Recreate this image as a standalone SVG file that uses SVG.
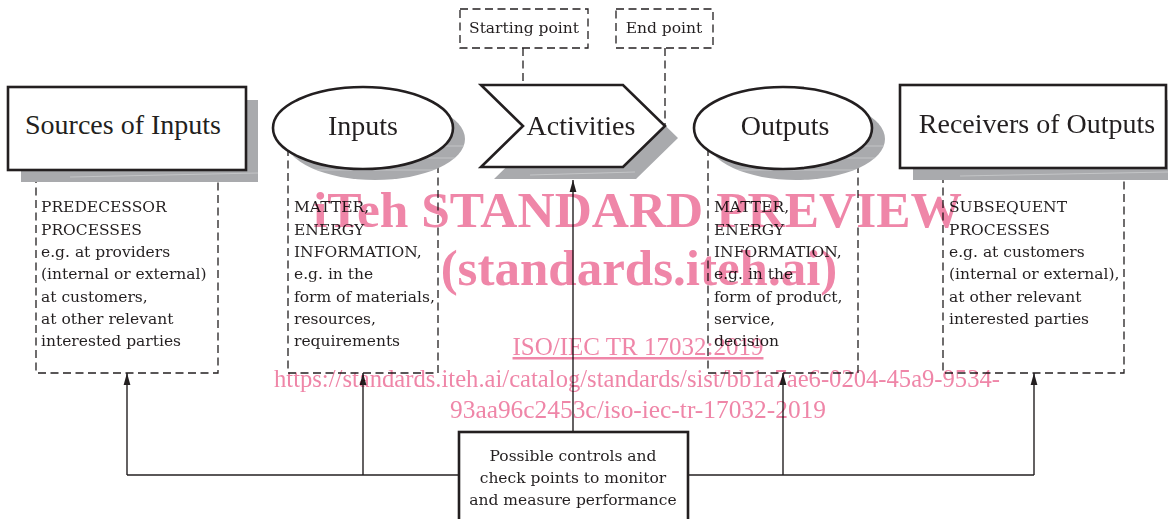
<svg xmlns="http://www.w3.org/2000/svg" width="1168" height="519" viewBox="0 0 1168 519">
  <style>
    .shadow { fill: #a9aaad; stroke: none; }
    .streak { stroke: #cfd0d2; stroke-width: 1; fill: none; opacity: 0.7; }
    .shape { fill: #ffffff; stroke: #231f20; stroke-width: 2.6; }
    .dash { fill: none; stroke: #231f20; stroke-width: 1.3; stroke-dasharray: 8 4.5; }
    .title { font-family: "Liberation Serif", "Times New Roman", serif; font-size: 28px; fill: #231f20; }
    .body { font-family: "DejaVu Serif", "Liberation Serif", serif; font-size: 15.5px; fill: #231f20; }
    .mid { text-anchor: middle; }
    .wire { fill: none; stroke: #231f20; stroke-width: 1.4; }
    .mark { font-family: "Liberation Serif", "Times New Roman", serif; fill: #ef86a8; }
  </style>
  <defs>
    <marker id="arrow" viewBox="0 0 12 10" refX="12" refY="5" markerWidth="12" markerHeight="10" markerUnits="userSpaceOnUse" orient="auto">
      <path d="M0,1.6 L12,5 L0,8.4 Z" fill="#231f20"/>
    </marker>
    <clipPath id="clipInShadow"><ellipse cx="375" cy="139" rx="90" ry="41"/></clipPath>
    <clipPath id="clipOutShadow"><ellipse cx="796" cy="139" rx="89" ry="41"/></clipPath>
  </defs>

  <!-- dashed detail boxes (tops are hidden behind the shapes above them) -->
  <g id="details">
    <path class="dash" d="M36,175 V373 H218 V175"/>
    <path class="dash" d="M288,148 V373 H438 V148"/>
    <path class="dash" d="M708,148 V373 H858 V148"/>
    <path class="dash" d="M943,175 V373 H1124 V175"/>
  </g>

  <!-- connectors -->
  <g id="connectors">
    <path class="wire" d="M127,475 H1034"/>
    <path class="wire" d="M127,475 V373" marker-end="url(#arrow)"/>
    <path class="wire" d="M363,475 V373" marker-end="url(#arrow)"/>
    <path class="wire" d="M783,475 V373" marker-end="url(#arrow)"/>
    <path class="wire" d="M1034,475 V373" marker-end="url(#arrow)"/>
    <path class="wire" d="M573,432 V180" marker-end="url(#arrow)"/>
    <path class="dash" d="M523,48 V126"/>
    <path class="dash" d="M665,48 V126"/>
  </g>

  <g id="sources">
    <rect class="shadow" x="21" y="100" width="237" height="82"/>
    <path class="streak" d="M70,177 L258,173"/>
    <rect class="shape" x="8" y="87" width="238" height="83"/>
    <text class="title mid" x="123" y="134">Sources of Inputs</text>
  </g>

  <g id="inputs">
    <ellipse class="shadow" cx="375" cy="139" rx="90" ry="41"/>
    <g clip-path="url(#clipInShadow)">
      <path class="streak" d="M280,146 H470 M280,158 H470 M280,170 H470"/>
    </g>
    <ellipse class="shape" cx="363" cy="128" rx="90" ry="41"/>
    <text class="title mid" x="363" y="135">Inputs</text>
  </g>

  <g id="activities">
    <path class="shadow" d="M494,97 H636 L678,138 L636,179 H494 L536,138 Z"/>
    <path class="streak" d="M530,175 L635,172"/>
    <path class="shape" d="M481,85 H623 L665,126 L623,167 H481 L523,126 Z"/>
    <text class="title mid" x="581" y="135">Activities</text>
  </g>

  <g id="starting-point">
    <rect class="dash" x="460" y="9" width="128" height="39"/>
    <text class="body mid" x="524" y="33">Starting point</text>
  </g>

  <g id="end-point">
    <rect class="dash" x="616" y="9" width="97" height="39"/>
    <text class="body mid" x="664" y="33">End point</text>
  </g>

  <g id="outputs">
    <ellipse class="shadow" cx="796" cy="139" rx="89" ry="41"/>
    <g clip-path="url(#clipOutShadow)">
      <path class="streak" d="M700,146 H890 M700,158 H890 M700,170 H890"/>
    </g>
    <ellipse class="shape" cx="783" cy="128" rx="89" ry="41"/>
    <text class="title mid" x="785" y="135">Outputs</text>
  </g>

  <g id="receivers">
    <rect class="shadow" x="913" y="100" width="270" height="80"/>
    <path class="streak" d="M960,176 L1168,172"/>
    <rect class="shape" x="900" y="85" width="266" height="83"/>
    <text class="title mid" x="1037" y="133">Receivers of Outputs</text>
  </g>

  <g id="sources-detail">
    <text class="body" x="41" y="212">PREDECESSOR</text>
    <text class="body" x="41" y="234.5">PROCESSES</text>
    <text class="body" x="41" y="257">e.g. at providers</text>
    <text class="body" x="41" y="279">(internal or external)</text>
    <text class="body" x="41" y="301.5">at customers,</text>
    <text class="body" x="41" y="324">at other relevant</text>
    <text class="body" x="41" y="346">interested parties</text>
  </g>

  <g id="inputs-detail">
    <text class="body" x="294" y="212">MATTER,</text>
    <text class="body" x="294" y="234.5">ENERGY</text>
    <text class="body" x="294" y="257">INFORMATION,</text>
    <text class="body" x="294" y="279">e.g. in the</text>
    <text class="body" x="294" y="301.5">form of materials,</text>
    <text class="body" x="294" y="324">resources,</text>
    <text class="body" x="294" y="346">requirements</text>
  </g>

  <g id="outputs-detail">
    <text class="body" x="714" y="212">MATTER,</text>
    <text class="body" x="714" y="234.5">ENERGY</text>
    <text class="body" x="714" y="257">INFORMATION,</text>
    <text class="body" x="714" y="279">e.g. in the</text>
    <text class="body" x="714" y="301.5">form of product,</text>
    <text class="body" x="714" y="324">service,</text>
    <text class="body" x="714" y="346">decision</text>
  </g>

  <g id="receivers-detail">
    <text class="body" x="949" y="212">SUBSEQUENT</text>
    <text class="body" x="949" y="234.5">PROCESSES</text>
    <text class="body" x="949" y="257">e.g. at customers</text>
    <text class="body" x="949" y="279">(internal or external),</text>
    <text class="body" x="949" y="301.5">at other relevant</text>
    <text class="body" x="949" y="324">interested parties</text>
  </g>

  <g id="controls">
    <rect class="shape" x="459" y="432" width="229" height="100"/>
    <text class="body mid" x="573" y="461">Possible controls and</text>
    <text class="body mid" x="573" y="483">check points to monitor</text>
    <text class="body mid" x="573" y="505">and measure performance</text>
  </g>

  <!-- preview stamp printed over the page -->
  <g id="stamp" style="mix-blend-mode:multiply">
    <text class="mark" x="313" y="227" font-size="51" font-weight="bold" textLength="649" lengthAdjust="spacingAndGlyphs">iTeh STANDARD PREVIEW</text>
    <text class="mark" x="639" y="285" font-size="51" font-weight="bold" text-anchor="middle">(standards.iteh.ai)</text>
    <text class="mark" x="638" y="355" font-size="25" text-anchor="middle" text-decoration="underline">ISO/IEC TR 17032:2019</text>
    <text class="mark" x="274" y="387" font-size="25" textLength="726" lengthAdjust="spacingAndGlyphs">https://standards.iteh.ai/catalog/standards/sist/bb1a7ae6-0204-45a9-9534-</text>
    <text class="mark" x="450" y="418" font-size="25" textLength="376" lengthAdjust="spacingAndGlyphs">93aa96c2453c/iso-iec-tr-17032-2019</text>
  </g>
</svg>
